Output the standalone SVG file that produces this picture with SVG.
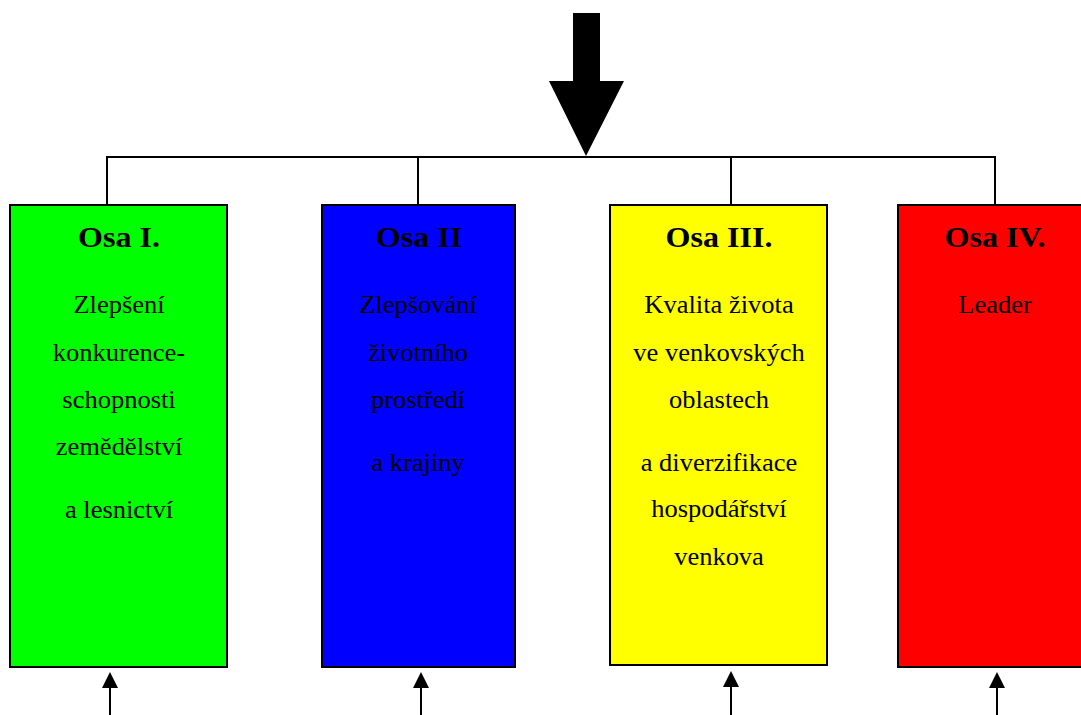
<svg xmlns="http://www.w3.org/2000/svg" width="1081" height="715" viewBox="0 0 1081 715">
<style>
.box{stroke:#000;stroke-width:2}
.t{font-family:"Liberation Serif","Times New Roman",serif;font-weight:bold;font-size:30px;text-anchor:middle;fill:#000}
.b{font-family:"Liberation Serif","Times New Roman",serif;font-size:25px;text-anchor:middle;fill:#000}
.ln{stroke:#000;stroke-width:2;fill:none}
</style>
<rect width="1081" height="715" fill="#fff"/>
<g id="connectors">
<polygon points="573,13 600,13 600,81 624,81 586,156 549,81 573,81" fill="#000"/>
<polyline class="ln" points="107,205 107,157 995,157 995,205"/>
<line class="ln" x1="418" y1="157" x2="418" y2="205"/>
<line class="ln" x1="731" y1="157" x2="731" y2="205"/>
<line class="ln" x1="110" y1="685" x2="110" y2="715"/>
<polygon points="110,672 118,688 102,688" fill="#000"/>
<line class="ln" x1="421" y1="685" x2="421" y2="715"/>
<polygon points="421,672 429,688 413,688" fill="#000"/>
<line class="ln" x1="731" y1="685" x2="731" y2="715"/>
<polygon points="731,671 739,687 723,687" fill="#000"/>
<line class="ln" x1="997" y1="685" x2="997" y2="715"/>
<polygon points="997,672 1005,688 989,688" fill="#000"/>
</g>
<g id="osa1">
<rect class="box" x="10" y="205" width="217" height="462" fill="#00ff00"/>
<text class="t" transform="translate(119,247) scale(1.07,1)">Osa I.</text>
<text class="b" transform="translate(119,313) scale(1.06,1)">Zlepšení</text>
<text class="b" transform="translate(119,361) scale(1.06,1)">konkurence-</text>
<text class="b" transform="translate(119,408) scale(1.06,1)">schopnosti</text>
<text class="b" transform="translate(119,455) scale(1.06,1)">zemědělství</text>
<text class="b" transform="translate(119,518) scale(1.06,1)">a lesnictví</text>
</g>
<g id="osa2">
<rect class="box" x="322" y="205" width="193" height="462" fill="#0000ff"/>
<text class="t" transform="translate(419,247) scale(1.07,1)">Osa II</text>
<text class="b" transform="translate(418,313) scale(1.06,1)">Zlepšování</text>
<text class="b" transform="translate(418,361) scale(1.06,1)">životního</text>
<text class="b" transform="translate(418,408) scale(1.06,1)">prostředí</text>
<text class="b" transform="translate(418,471) scale(1.06,1)">a krajiny</text>
</g>
<g id="osa3">
<rect class="box" x="610" y="205" width="217" height="460" fill="#ffff00"/>
<text class="t" transform="translate(719,247) scale(1.07,1)">Osa III.</text>
<text class="b" transform="translate(719,313) scale(1.06,1)">Kvalita života</text>
<text class="b" transform="translate(719,361) scale(1.06,1)">ve venkovských</text>
<text class="b" transform="translate(719,408) scale(1.06,1)">oblastech</text>
<text class="b" transform="translate(719,471) scale(1.06,1)">a diverzifikace</text>
<text class="b" transform="translate(719,517) scale(1.06,1)">hospodářství</text>
<text class="b" transform="translate(719,565) scale(1.06,1)">venkova</text>
</g>
<g id="osa4">
<rect class="box" x="898" y="205" width="200" height="462" fill="#ff0000"/>
<text class="t" transform="translate(995,247) scale(1.07,1)">Osa IV.</text>
<text class="b" transform="translate(995,313) scale(1.06,1)">Leader</text>
</g>
</svg>
